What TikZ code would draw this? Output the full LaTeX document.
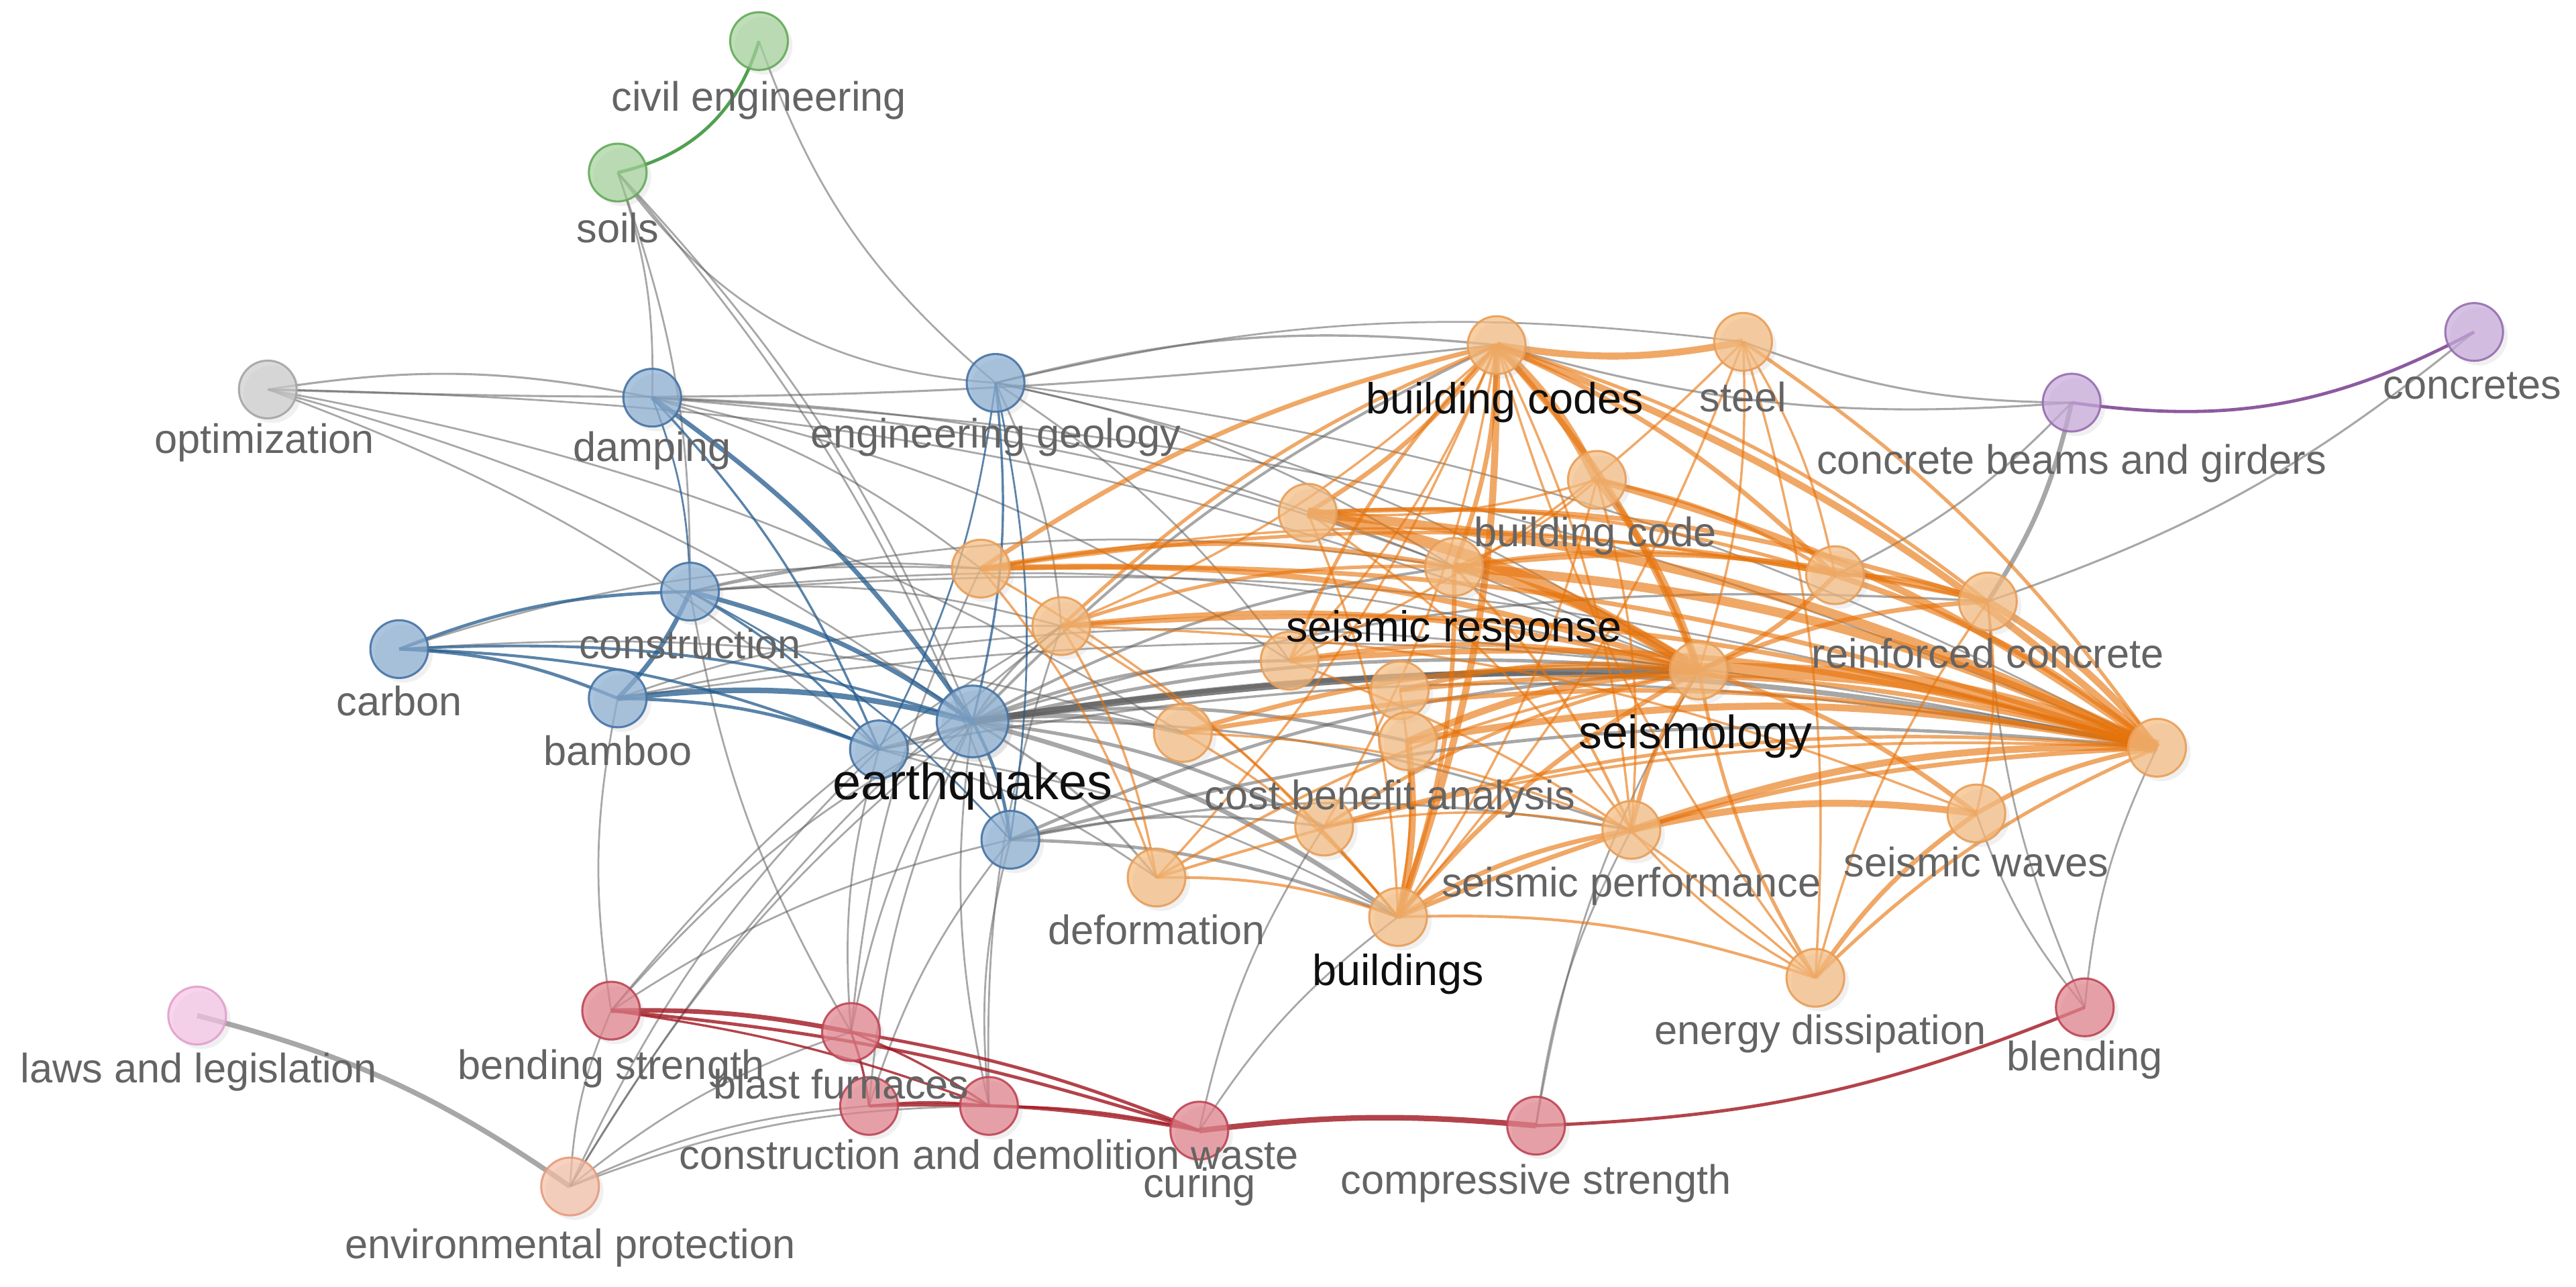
\documentclass[tikz,border=0pt]{standalone}
\usepackage{fontspec}
\setmainfont{Liberation Sans}
\usetikzlibrary{shadows}
\pgfdeclarelayer{bg}
\pgfsetlayers{bg,main}
\definecolor{oF}{RGB}{245,188,128}\definecolor{oD}{RGB}{232,158,88}\definecolor{oE}{RGB}{230,115,10}
\definecolor{bF}{RGB}{140,175,210}\definecolor{bD}{RGB}{70,115,165}\definecolor{bE}{RGB}{35,90,140}
\definecolor{gF}{RGB}{165,210,155}\definecolor{gD}{RGB}{100,170,90}\definecolor{gE}{RGB}{80,160,80}
\definecolor{rF}{RGB}{225,130,140}\definecolor{rD}{RGB}{190,70,85}\definecolor{rE}{RGB}{160,20,30}
\definecolor{pF}{RGB}{200,170,220}\definecolor{pD}{RGB}{150,110,175}\definecolor{pE}{RGB}{140,90,160}
\definecolor{yF}{RGB}{205,205,205}\definecolor{yD}{RGB}{165,165,165}
\definecolor{kF}{RGB}{245,195,230}\definecolor{kD}{RGB}{225,160,205}
\definecolor{sF}{RGB}{245,192,168}\definecolor{sD}{RGB}{230,155,125}
\definecolor{gyE}{RGB}{95,95,95}
\definecolor{lblgray}{RGB}{100,100,100}
\definecolor{lbldark}{RGB}{15,15,15}
\tikzset{
  kw/.style={circle, minimum size=25pt, inner sep=0pt, line width=0.9pt, fill opacity=0.72, draw opacity=0.9,
    drop shadow={shadow xshift=2pt, shadow yshift=-2pt, opacity=0.12}},
  kwbig/.style={kw, minimum size=31pt},
  orn/.style={kw, fill=oF, draw=oD},
  blu/.style={kw, fill=bF, draw=bD},
  grn/.style={kw, fill=gF, draw=gD},
  red/.style={kw, fill=rF, draw=rD},
  pur/.style={kw, fill=pF, draw=pD},
  gry/.style={kw, fill=yF, draw=yD},
  pnk/.style={kw, fill=kF, draw=kD},
  slm/.style={kw, fill=sF, draw=sD},
  lbl/.style={font=\fontsize{17.8}{20}\selectfont, text=lblgray, anchor=mid, inner sep=0pt, yshift=-3.5pt},
  lbld/.style={font=\fontsize{18.8}{21}\selectfont, text=lbldark, anchor=mid, inner sep=0pt, yshift=-3.5pt},
  ored/.style={draw=oE, draw opacity=0.62},
  blued/.style={draw=bE, draw opacity=0.75},
  redd/.style={draw=rE, draw opacity=0.8},
  grayd/.style={draw=gyE, draw opacity=0.55},
}
\begin{document}
\begin{tikzpicture}[x=0.025cm, y=-0.025cm]
\useasboundingbox (0,0) rectangle (1568,783);
% ---------- nodes ----------
\node[grn] (ce) at (462,25) {};
\node[grn] (so) at (376,105) {};
\node[gry] (op) at (163,237) {};
\node[blu] (da) at (397,242) {};
\node[blu] (eg) at (606,233) {};
\node[blu] (co) at (420,360) {};
\node[blu] (ca) at (243,395) {};
\node[blu] (ba) at (376,425) {};
\node[blu] (b1) at (535,456) {};
\node[blu, kwbig] (eq) at (592,439) {};
\node[blu] (b2) at (615,511) {};
\node[orn] (bc) at (911,210) {};
\node[orn] (st) at (1061,208) {};
\node[pur] (cb) at (1261,245) {};
\node[pur] (cs) at (1506,202) {};
\node[orn] (o1) at (796,312) {};
\node[orn] (bcd) at (972,292) {};
\node[orn] (sr) at (885,345) {};
\node[orn] (o2) at (597,346) {};
\node[orn] (o3) at (646,381) {};
\node[orn] (o4) at (1117,350) {};
\node[orn] (rc) at (1210,366) {};
\node[orn] (o5) at (1313,455) {};
\node[orn] (sm) at (1034,408) {};
\node[orn] (o6) at (720,446) {};
\node[orn] (o7) at (785,402) {};
\node[orn] (o8) at (852,420) {};
\node[orn] (cba) at (857,451) {};
\node[orn] (o9) at (806,503) {};
\node[orn] (sp) at (993,505) {};
\node[orn] (sw) at (1203,495) {};
\node[orn] (ed) at (1105,595) {};
\node[orn] (de) at (704,534) {};
\node[orn] (bu) at (851,558) {};
\node[red] (bl) at (1269,613) {};
\node[red] (bs) at (372,615) {};
\node[red] (bf) at (518,628) {};
\node[red] (r1) at (529,673) {};
\node[red] (cdw) at (602,673) {};
\node[red] (cu) at (730,688) {};
\node[red] (cst) at (935,685) {};
\node[pnk] (ll) at (120,618) {};
\node[slm] (ep) at (347,722) {};
% ---------- edges ----------
\begin{pgfonlayer}{bg}
% gray (between clusters)
\foreach \a/\b/\w in {ll/ep/2.2, so/da/0.8, so/eq/0.8, so/b2/0.8, so/co/0.8,
  op/da/0.9, op/eq/0.8, op/b1/0.8, op/sm/0.8, op/o6/0.8,
  da/sm/0.8, da/sr/0.8, da/o7/0.8, da/o2/0.8, da/o5/0.8,
  eg/bc/1, eg/st/0.8, eg/sr/0.8, eg/sm/0.8, eg/o7/0.8, eg/o5/0.8, eg/o3/0.8,
  co/o2/0.8, co/sm/0.8, co/o5/0.8, co/o3/0.8, co/sr/0.8, ca/o6/0.8, ca/o2/0.8,
  ba/o3/0.8, ba/o5/0.8, ba/sm/0.8, b1/o5/1, b1/de/0.8, b1/bu/0.8, b1/sm/1.5,
  eq/o5/2.2, eq/o6/2, eq/bu/2, eq/sp/1, eq/cba/1.5, eq/o9/1.5, eq/de/1, eq/o3/1, eq/sr/1.2, eq/rc/1, eq/o7/1.4, eq/bc/1.2,
  b2/o5/1.4, b2/sm/1.4, b2/sp/1, b2/bu/1.4, b2/o9/1,
  cb/bc/0.9, cb/st/0.9, cb/rc/2, cb/o4/0.9, cs/rc/0.9,
  bl/o5/0.8, bl/rc/0.8, bl/sw/0.8, cst/sp/0.8, cst/sm/0.8, cu/bu/0.8, cu/o9/0.8,
  cdw/eq/0.8, cdw/b2/0.8, cdw/o3/0.8, bf/eq/0.8, bf/b1/0.8, bf/co/0.8, bf/o2/0.8,
  r1/eq/0.8, r1/b2/0.8, bs/ba/0.8, bs/eq/0.8, bs/o3/0.8, bs/b2/0.8,
  ep/bs/0.8, ep/bf/0.8, ep/r1/0.8, ep/cdw/0.8, ep/eq/0.8, ep/b1/0.8, ep/o3/0.8}
  \draw[grayd, line width=\w pt] (\a.center) to[bend left=10] (\b.center);
\draw[grayd, line width=0.9pt] (op.center) to[bend right=4] (bc.center);
\draw[grayd, line width=0.8pt] (ce.center) to[bend right=15] (eg.center);
\draw[grayd, line width=0.8pt] (so.center) to[bend right=25] (eg.center);
\draw[draw=gyE, draw opacity=0.8, line width=3pt] (eq.center) to[bend left=4] (sm.center);
% blue
\foreach \a/\b/\w in {da/eq/2, da/b1/1, da/co/0.8, eg/eq/1, eg/b1/0.8, eg/b2/0.8, co/eq/2, co/b1/1,
  co/ba/2, ca/co/1.4, ca/ba/1.4, ca/eq/1.2, ca/b1/1.2, ba/eq/2.4, ba/b1/1.4, eq/b2/1.4, co/b2/0.8}
  \draw[blued, line width=\w pt] (\a.center) to[bend left=10] (\b.center);
% orange
\foreach \a/\b/\w in {sm/o5/6.5, sr/o5/4, o1/o5/4, o1/sm/5, sr/sm/4, bc/o5/3, bc/bcd/4, bcd/o5/3, bcd/sm/3,
  bc/sm/2.5, bc/bu/3, cba/bu/3, cba/o5/3, cba/sm/3, sp/o5/3, sp/sw/3, sp/sm/2, sw/o5/2, rc/o5/3,
  o4/o5/2.5, o4/sm/2, o2/sm/2.5, o2/o5/2, o2/sr/2, o2/bc/2, o3/o5/2, o3/sm/2, o3/sr/1.5, o3/bc/1.5,
  o6/sm/2, o6/o5/2, o7/o5/2.5, o7/sm/2, o7/bc/1.5, o8/o5/2, o8/sm/2, o9/o5/1.5, o9/sm/1.5,
  de/sm/1.2, de/o5/1.2, bu/o5/2, bu/sm/2, bu/sp/2, bu/ed/1.2, ed/sw/2, ed/o5/1.5, ed/sm/1.5,
  ed/sp/1, ed/bc/1, ed/rc/1, st/bc/3, st/o5/1.5, st/sm/1, st/o4/1, st/bu/1, st/o7/1,
  bc/o1/2, bc/sr/2, bc/o4/2, bc/rc/1.5, bc/o3/1, bc/o7/1, bc/o9/1, bc/sp/1, bc/de/1,
  bcd/o1/1, bcd/sr/1, bcd/o4/1.5, bcd/sp/1, bcd/bu/1, o1/rc/2, o1/o4/1.5, o1/sp/1,
  sr/rc/2, sr/bu/2, sr/o4/1.5, o2/rc/1.5, o2/o4/1, o2/bu/1, o2/de/1, o3/bu/1, o3/de/1,
  sm/rc/2, sm/sw/2, o4/rc/1.5, rc/sw/1, o3/sw/1, o6/bu/1, o6/sp/1, o7/ed/1, o8/bu/1, sr/sp/1.2,
  o9/sp/1, de/bu/1.2, st/ed/1, o1/bu/1}
  \draw[ored, line width=\w pt] (\a.center) to[bend left=10] (\b.center);
% red
\foreach \a/\b/\w in {bs/bf/2, bs/cu/1.4, bs/cdw/1, bf/cdw/1, bf/cu/1.4, r1/cdw/1, r1/cu/1.4,
  cdw/cu/1, cu/cst/2.4, bf/r1/1}
  \draw[redd, line width=\w pt] (\a.center) to[bend left=6] (\b.center);
\draw[redd, line width=1.4pt] (cst.center) to[bend right=10] (bl.center);
% green and purple
\draw[draw=gE, line width=1.4pt] (so.center) to[bend right=30] (ce.center);
\draw[draw=pE, line width=1.4pt] (cb.center) to[bend right=18] (cs.center);
\end{pgfonlayer}
% ---------- labels ----------
\node[lbl] (l-ce) at (462,59) {civil engineering};
\node[lbl] (l-so) at (376,139) {soils};
\node[lbl] (l-op) at (161,267) {optimization};
\node[lbl] (l-da) at (397,272) {damping};
\node[lbl] (l-eg) at (606,264) {engineering geology};
\node[lbld] (l-bc) at (916,243) {building codes};
\node[lbl] (l-st) at (1061,242) {steel};
\node[lbl] (l-cb) at (1261,280) {concrete beams and girders};
\node[lbl] (l-cs) at (1505,234) {concretes};
\node[lbl] (l-bcd) at (971,324) {building code};
\node[lbld] (l-sr) at (885,382) {seismic response};
\node[lbl] (l-co) at (420,392) {construction};
\node[lbl] (l-rc) at (1210,398) {reinforced concrete};
\node[lbl] (l-ca) at (243,427) {carbon};
\node[lbl] (l-ba) at (376,457) {bamboo};
\node[lbld, font=\fontsize{22}{24}\selectfont] (l-eq) at (592,478) {earthquakes};
\node[lbld, font=\fontsize{20.2}{23}\selectfont] (l-sm) at (1032,447) {seismology};
\node[lbl] (l-cba) at (846,484) {cost benefit analysis};
\node[lbl] (l-sp) at (993,537) {seismic performance};
\node[lbl] (l-sw) at (1203,525) {seismic waves};
\node[lbl] (l-de) at (704,566) {deformation};
\node[lbld] (l-bu) at (851,591) {buildings};
\node[lbl] (l-ed) at (1108,627) {energy dissipation};
\node[lbl] (l-bl) at (1269,643) {blending};
\node[lbl] (l-ll) at (121,650) {laws and legislation};
\node[lbl] (l-bs) at (372,648) {bending strength};
\node[lbl] (l-bf) at (512,660) {blast furnaces};
\node[lbl] (l-cdw) at (602,703) {construction and demolition waste};
\node[lbl] (l-cu) at (730,720) {curing};
\node[lbl] (l-cst) at (935,718) {compressive strength};
\node[lbl] (l-ep) at (347,757) {environmental protection};
\end{tikzpicture}
\end{document}
